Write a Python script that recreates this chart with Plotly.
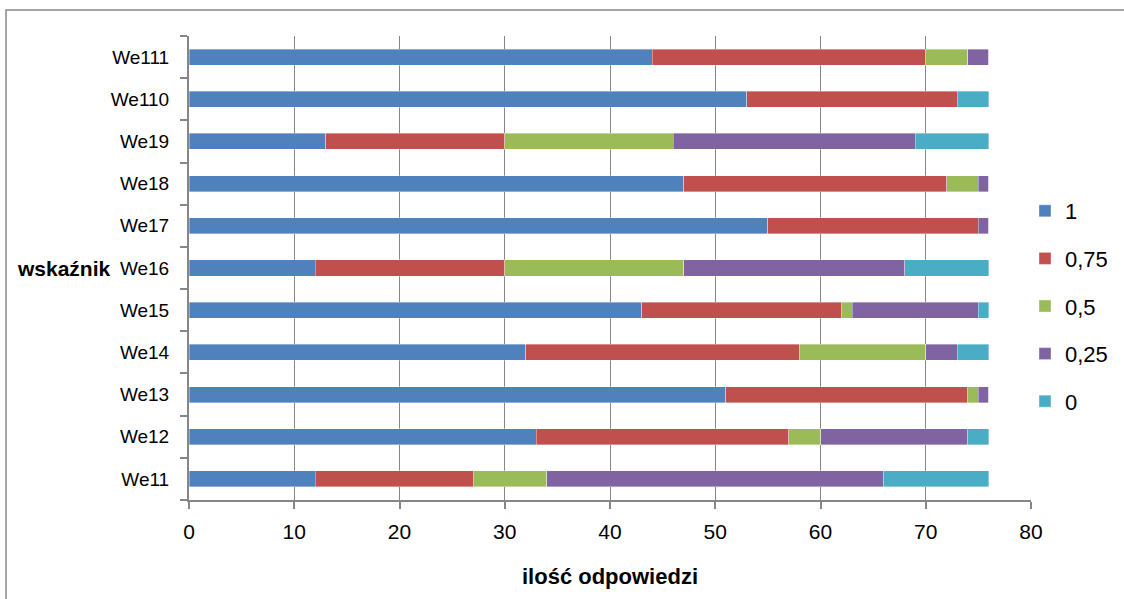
import plotly.graph_objects as go

# Indicators, listed bottom to top as they appear on the axis
categories = ["We11", "We12", "We13", "We14", "We15", "We16",
              "We17", "We18", "We19", "We110", "We111"]

# Number of answers per score level for each indicator
score_1 = [12, 33, 51, 32, 43, 12, 55, 47, 13, 53, 44]
score_075 = [15, 24, 23, 26, 19, 18, 20, 25, 17, 20, 26]
score_05 = [7, 3, 1, 12, 1, 17, 0, 3, 16, 0, 4]
score_025 = [32, 14, 1, 3, 12, 21, 1, 1, 23, 0, 2]
score_0 = [10, 2, 0, 3, 1, 8, 0, 0, 7, 3, 0]

series_names = ["1", "0,75", "0,5", "0,25", "0"]
series_values = [score_1, score_075, score_05, score_025, score_0]
series_colors = ["#4F81BD", "#C0504D", "#9BBB59", "#8064A2", "#4BACC6"]

x_ticks = [0, 10, 20, 30, 40, 50, 60, 70, 80]

FONT = "Liberation Sans, Arial, sans-serif"
W, H = 1124, 599
L, R, T, B = 189, 93, 36, 99
PW, PH = W - L - R, H - T - B


def px_x(x):
    return (x - L) / PW


def px_y(y):
    return 1 - (y - T) / PH


fig = go.Figure()
for name, vals, col in zip(series_names, series_values, series_colors):
    fig.add_trace(go.Bar(
        y=categories, x=vals, name=name, orientation="h",
        marker=dict(color=col, line=dict(color="rgba(255,255,255,0.45)", width=0.8)),
        legendgroup=name,
    ))

fig.update_layout(
    width=W, height=H,
    barmode="stack", bargap=0.62,
    plot_bgcolor="white", paper_bgcolor="white",
    margin=dict(l=L, r=R, t=T, b=B, pad=0, autoexpand=False),
    font=dict(family=FONT, color="#000000"),
    legend=dict(
        x=px_x(1025), xanchor="left",
        y=px_y(190), yanchor="top",
        traceorder="grouped", tracegroupgap=16,
        font=dict(size=22, family=FONT),
        itemwidth=30,
        bgcolor="rgba(0,0,0,0)",
    ),
    xaxis=dict(
        range=[0, 80], tickvals=x_ticks,
        showgrid=True, gridcolor="#868686", gridwidth=1,
        showline=True, linecolor="#868686", linewidth=2,
        ticks="outside", ticklen=7, tickcolor="#868686", tickwidth=1.5,
        tickfont=dict(size=21, family=FONT),
        ticklabelstandoff=5,
        zeroline=False,
        title=dict(text="<b>ilość odpowiedzi</b>", font=dict(size=22, family=FONT), standoff=26),
    ),
    yaxis=dict(
        categoryorder="array", categoryarray=categories,
        showline=True, linecolor="#868686", linewidth=2,
        ticks="outside", tickson="boundaries", ticklen=7,
        tickcolor="#868686", tickwidth=1.5,
        tickfont=dict(size=19, family=FONT),
        ticklabelstandoff=14,
        showgrid=False,
    ),
    annotations=[dict(
        text="<b>wskaźnik</b>", xref="paper", yref="paper",
        x=px_x(15), xanchor="left",
        y=px_y(268), yanchor="middle",
        showarrow=False, font=dict(size=21, family=FONT),
    )],
    shapes=[dict(
        type="rect", xref="paper", yref="paper",
        x0=px_x(6), x1=px_x(W + 20),
        y0=px_y(H + 20), y1=px_y(10),
        line=dict(color="#888888", width=1.5), fillcolor="rgba(0,0,0,0)",
        layer="below",
    )],
)

fig.write_html("out.html")
